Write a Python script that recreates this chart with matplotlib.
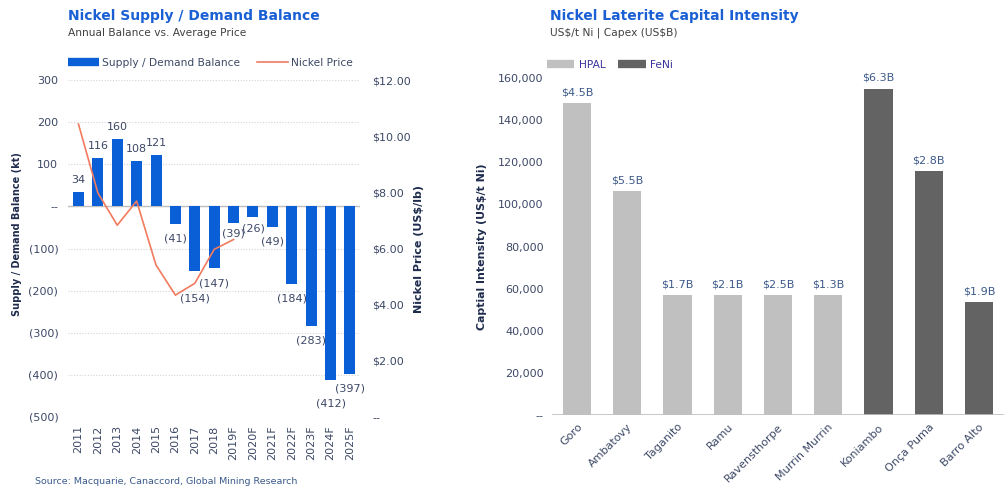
import matplotlib
matplotlib.use("Agg")
import matplotlib.pyplot as plt
from matplotlib.lines import Line2D
from matplotlib.ticker import FuncFormatter

plt.rcParams['font.family'] = ['DejaVu Sans']
plt.rcParams['text.parse_math'] = False

# ---------------- data ----------------
years = ["2011", "2012", "2013", "2014", "2015", "2016", "2017", "2018",
         "2019F", "2020F", "2021F", "2022F", "2023F", "2024F", "2025F"]
balance = [34, 116, 160, 108, 121, -41, -154, -147, -39, -26, -49, -184, -283, -412, -397]
price_years = ["2011", "2012", "2013", "2014", "2015", "2016", "2017", "2018", "2019F"]
price = [10.43, 7.98, 6.83, 7.69, 5.41, 4.34, 4.76, 5.97, 6.32]

projects = ["Goro", "Ambatovy", "Taganito", "Ramu", "Ravensthorpe",
            "Murrin Murrin", "Koniambo", "Onça Puma", "Barro Alto"]
intensity = [148000, 106500, 57000, 57000, 57000, 57000, 155000, 116000, 53500]
capex = ["$4.5B", "$5.5B", "$1.7B", "$2.1B", "$2.5B", "$1.3B", "$6.3B", "$2.8B", "$1.9B"]
process = ["HPAL", "HPAL", "HPAL", "HPAL", "HPAL", "HPAL", "FeNi", "FeNi", "FeNi"]

# ---------------- style ----------------
W, H = 1008, 491
BLUE = '#0B5FD6'
SALMON = '#F27A5E'
TITLE_BLUE = '#1A60D4'
TICK_C = '#3C4866'
LABEL_C = '#1E2B4D'
GRID_C = '#D4D4D4'
HPAL_C = '#C0C0C0'
FENI_C = '#636363'
FS = 8

fig = plt.figure(figsize=(W / 100, H / 100), dpi=100)
fig.patch.set_facecolor('white')

def box(x0, y0, x1, y1):
    return [x0 / W, 1 - y1 / H, (x1 - x0) / W, (y1 - y0) / H]

# ================= Left chart =================
ax = fig.add_axes(box(68, 80, 360, 417))
xs = list(range(len(years)))
ax.bar(xs, balance, width=0.57, color=BLUE, zorder=3)
ax.set_xlim(-0.54, len(years) - 1 + 0.52)
ax.set_ylim(-500, 300)
ax.set_yticks(range(-500, 301, 100))
ax.yaxis.set_major_formatter(FuncFormatter(
    lambda v, p: "--" if v == 0 else (f"{v:.0f}" if v > 0 else f"({-v:.0f})")))
ax.set_xticks(xs)
ax.set_xticklabels(years, rotation=90, fontsize=FS, color=TICK_C)
ax.tick_params(axis='both', length=0, colors=TICK_C, labelsize=FS)
ax.tick_params(axis='y', pad=7)
ax.tick_params(axis='x', pad=6)
for s in ax.spines.values():
    s.set_visible(False)
ax.yaxis.grid(True, linestyle=(0, (1, 1.5)), color=GRID_C, linewidth=0.8, zorder=0)
ax.set_axisbelow(True)
ax.axhline(0, color='#BFBFBF', linewidth=1.0, zorder=2)
ax.set_ylabel("Supply / Demand Balance (kt)", fontsize=7, fontweight='bold',
              color=LABEL_C)
ax.yaxis.set_label_coords(-0.158, 0.543)

nudge = {6: 13, 8: -4, 9: -4, 13: 9}
for i, v in enumerate(balance):
    if v >= 0:
        txt, va, off = f"{v}", 'bottom', 5
    else:
        txt, va, off = f"({-v})", 'top', -(7 + nudge.get(i, 0) * 0.72)
    ax.annotate(txt, (i, v), xytext=(0, off), textcoords='offset points',
                ha='center', va=va, fontsize=FS, color=TICK_C, zorder=5)

ax2 = ax.twinx()
ax2.set_ylim(0, 12)
ax2.set_yticks(range(0, 13, 2))
ax2.yaxis.set_major_formatter(FuncFormatter(
    lambda v, p: "--" if v == 0 else f"${v:.2f}"))
ax2.tick_params(axis='y', length=0, colors=TICK_C, labelsize=FS, pad=9)
for s in ax2.spines.values():
    s.set_visible(False)
px = [years.index(y) for y in price_years]
ax2.plot(px, price, color=SALMON, linewidth=1.2, zorder=4)
ax2.set_ylabel("Nickel Price (US$/lb)", fontsize=8, fontweight='bold',
               color=LABEL_C, labelpad=2)

leg_handles = [Line2D([], [], color=BLUE, linewidth=6, solid_capstyle='butt'),
               Line2D([], [], color=SALMON, linewidth=1.2)]
fig.legend(leg_handles, ["Supply / Demand Balance", "Nickel Price"],
           loc='center left', bbox_to_anchor=(58 / W, 1 - 63 / H), ncol=2,
           frameon=False, fontsize=7.7, handlelength=2.9, handletextpad=0.3,
           columnspacing=1.6, labelcolor=TICK_C)

fig.text(68 / W, 1 - 16 / H, "Nickel Supply / Demand Balance", fontsize=10,
         fontweight='bold', color=TITLE_BLUE, va='center', ha='left')
fig.text(68 / W, 1 - 33 / H, "Annual Balance vs. Average Price", fontsize=7.7,
         color='#404040', va='center', ha='left')
fig.text(35 / W, 1 - 481 / H, "Source: Macquarie, Canaccord, Global Mining Research",
         fontsize=6.8, color='#3B5B8C', va='center', ha='left')

# ================= Right chart =================
bx = fig.add_axes(box(552, 78, 1004, 415))
cols = [HPAL_C if p == "HPAL" else FENI_C for p in process]
rxs = list(range(len(projects)))
bx.bar(rxs, intensity, width=0.56, color=cols, zorder=3)
bx.set_xlim(-0.5, len(projects) - 0.5)
bx.set_ylim(0, 160000)
bx.set_yticks(range(0, 160001, 20000))
bx.yaxis.set_major_formatter(FuncFormatter(
    lambda v, p: "--" if v == 0 else f"{v:,.0f}"))
bx.set_xticks(rxs)
bx.set_xticklabels(projects, rotation=45, ha='right', rotation_mode='anchor',
                   fontsize=FS, color=TICK_C)
bx.tick_params(axis='both', length=0, colors=TICK_C, labelsize=FS)
bx.tick_params(axis='y', pad=6)
bx.tick_params(axis='x', pad=5)
for s in bx.spines.values():
    s.set_visible(False)
bx.axhline(0, color='#BFBFBF', linewidth=1.2, zorder=4)
bx.set_ylabel("Captial Intensity (US$/t Ni)", fontsize=7.9, fontweight='bold',
              color=LABEL_C, labelpad=8)
for i, (v, c) in enumerate(zip(intensity, capex)):
    bx.annotate(c, (i, v), xytext=(0, 4), textcoords='offset points',
                ha='center', va='bottom', fontsize=FS, color='#3D5A8A')

r_handles = [Line2D([], [], color=HPAL_C, linewidth=6, solid_capstyle='butt'),
             Line2D([], [], color=FENI_C, linewidth=6, solid_capstyle='butt')]
fig.legend(r_handles, ["HPAL", "FeNi"], loc='center left',
           bbox_to_anchor=(537 / W, 1 - 65 / H), ncol=2, frameon=False,
           fontsize=7.7, handlelength=2.6, handletextpad=0.4, columnspacing=1.2,
           labelcolor='#3A3399')

fig.text(550 / W, 1 - 16 / H, "Nickel Laterite Capital Intensity", fontsize=10,
         fontweight='bold', color=TITLE_BLUE, va='center', ha='left')
fig.text(550 / W, 1 - 33 / H, "US$/t Ni | Capex (US$B)", fontsize=7.7,
         color='#404040', va='center', ha='left')

fig.savefig("out.png", dpi=100, facecolor='white')
